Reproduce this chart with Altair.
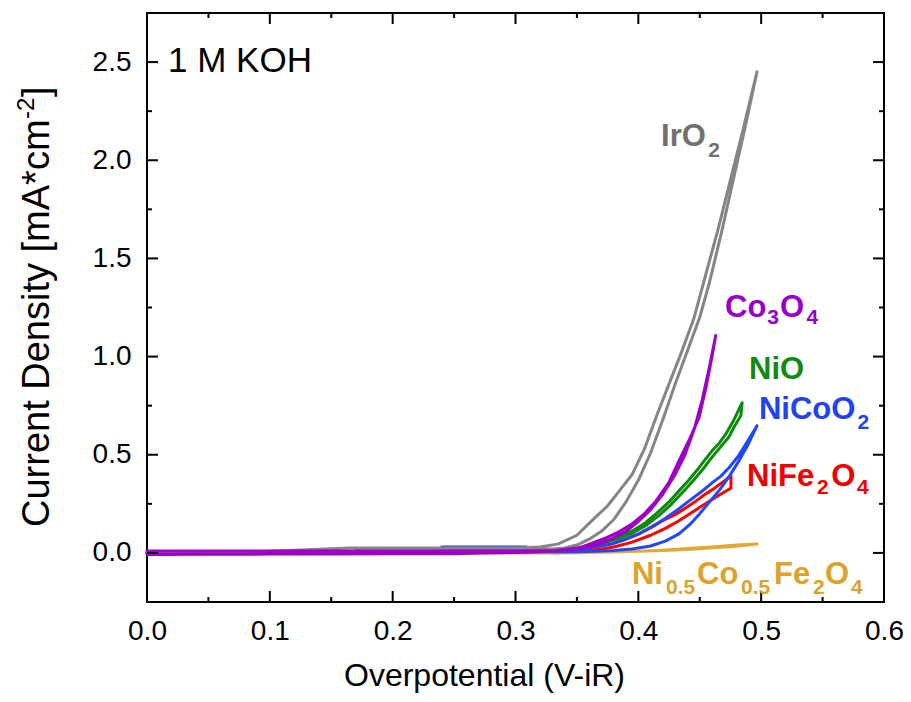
import altair as alt
import pandas as pd

FONT = "Liberation Sans"

# ---------------- data ----------------
series_names = ["Ni0.5Co0.5Fe2O4", "NiFe2O4", "NiO", "NiCoO2", "IrO2", "Co3O4"]
series_colors = ["#E3A833", "#FF0000", "#0C8C0C", "#2047FF", "#858585", "#9E00C8"]

# IrO2 (forward + return scan)
iro2_x = [0.0, 0.1, 0.165, 0.25, 0.30, 0.32, 0.335, 0.35, 0.362, 0.375, 0.385, 0.395, 0.405,
          0.415, 0.425, 0.435, 0.445, 0.455, 0.465, 0.475, 0.485, 0.4966,
          0.487, 0.478, 0.468, 0.458, 0.45, 0.44, 0.43, 0.42, 0.41, 0.40, 0.39, 0.38, 0.37,
          0.36, 0.35, 0.34, 0.33, 0.30, 0.20, 0.17]
iro2_y = [0.005, 0.008, 0.025, 0.025, 0.025, 0.03, 0.046, 0.09, 0.163, 0.24, 0.32, 0.40, 0.53,
          0.70, 0.86, 1.02, 1.19, 1.42, 1.65, 1.90, 2.15, 2.45,
          2.17, 1.92, 1.64, 1.38, 1.20, 1.03, 0.86, 0.68, 0.51, 0.37, 0.26, 0.17, 0.11,
          0.07, 0.04, 0.025, 0.02, 0.02, 0.02, 0.02]

# Co3O4
co3o4_x = [0.0, 0.05, 0.1, 0.15, 0.2, 0.25, 0.272, 0.30, 0.33, 0.352, 0.3737, 0.385, 0.395,
           0.405, 0.4144, 0.425, 0.4331, 0.441, 0.4494, 0.455, 0.460, 0.463,
           0.458, 0.452, 0.446, 0.438, 0.430, 0.420, 0.410, 0.400, 0.390, 0.378, 0.365,
           0.350, 0.335, 0.30, 0.2, 0.1, 0.0]
co3o4_y = [-0.008, -0.007, -0.006, -0.005, -0.004, -0.004, 0.0, 0.002, 0.01, 0.026, 0.077, 0.11,
           0.148, 0.20, 0.265, 0.36, 0.469, 0.57, 0.689, 0.84, 1.0, 1.107,
           0.95, 0.78, 0.64, 0.50, 0.40, 0.30, 0.22, 0.16, 0.11, 0.07, 0.04,
           0.02, 0.012, 0.01, 0.01, 0.01, 0.01]

# NiO
nio_x = [0.0, 0.2, 0.33, 0.352, 0.3737, 0.385, 0.395, 0.405, 0.4144, 0.425, 0.4331, 0.441,
         0.4494, 0.455, 0.460, 0.466, 0.4714, 0.478, 0.4845,
         0.4835, 0.4778, 0.4737, 0.467, 0.4603, 0.453, 0.445, 0.4363, 0.4273, 0.4167,
         0.4064, 0.395, 0.383, 0.366, 0.35, 0.33]
nio_y = [0.0, 0.005, 0.012, 0.026, 0.061, 0.085, 0.112, 0.15, 0.199, 0.26, 0.316, 0.37,
         0.434, 0.48, 0.520, 0.56, 0.607, 0.68, 0.765,
         0.70, 0.64, 0.59, 0.54, 0.49, 0.43, 0.37, 0.31, 0.25, 0.19,
         0.14, 0.10, 0.07, 0.04, 0.02, 0.012]

# NiCoO2
nicoo2_x = [0.0, 0.236, 0.24, 0.309, 0.315, 0.33, 0.352, 0.3786, 0.39, 0.4005, 0.412, 0.4226,
            0.432, 0.4413, 0.451, 0.460, 0.467, 0.4738, 0.481, 0.4877, 0.4966,
            0.49, 0.482, 0.474, 0.466, 0.458, 0.45, 0.442, 0.4331, 0.422, 0.41, 0.395,
            0.38, 0.365, 0.35, 0.3, 0.2, 0.0]
nicoo2_y = [0.0, 0.0, 0.03, 0.03, 0.012, 0.012, 0.018, 0.046, 0.07, 0.097, 0.135, 0.179,
            0.22, 0.265, 0.31, 0.357, 0.39, 0.434, 0.49, 0.556, 0.648,
            0.56, 0.47, 0.39, 0.32, 0.26, 0.20, 0.145, 0.097, 0.06, 0.035, 0.02,
            0.012, 0.008, 0.006, 0.005, 0.003, 0.0]

# NiFe2O4
nife2o4_x = [0.0, 0.3, 0.34, 0.36, 0.3786, 0.39, 0.4005, 0.41, 0.4193, 0.43, 0.4388, 0.447,
             0.455, 0.462, 0.468, 0.4754,
             0.4754, 0.470, 0.462, 0.452, 0.442, 0.432, 0.422, 0.41, 0.395, 0.38, 0.365, 0.34]
nife2o4_y = [0.0, 0.005, 0.01, 0.025, 0.046, 0.07, 0.097, 0.13, 0.163, 0.195, 0.230, 0.265,
             0.301, 0.33, 0.357, 0.393,
             0.33, 0.31, 0.28, 0.24, 0.20, 0.16, 0.125, 0.09, 0.055, 0.03, 0.015, 0.008]

# Ni0.5Co0.5Fe2O4
ncfo_x = [0.0, 0.2, 0.33, 0.36, 0.38, 0.40, 0.42, 0.44, 0.46, 0.475, 0.485, 0.4966,
          0.48, 0.46, 0.44, 0.42, 0.40, 0.38, 0.36, 0.33]
ncfo_y = [0.0, 0.0, 0.0, 0.002, 0.005, 0.008, 0.012, 0.018, 0.026, 0.032, 0.038, 0.046,
          0.04, 0.03, 0.022, 0.014, 0.009, 0.005, 0.002, -0.002]

series_x = [ncfo_x, nife2o4_x, nio_x, nicoo2_x, iro2_x, co3o4_x]
series_y = [ncfo_y, nife2o4_y, nio_y, nicoo2_y, iro2_y, co3o4_y]

# curve labels: pieces of text (main / subscript)
label_text = ["IrO", "2", "Co", "3", "O", "4", "NiO", "NiCoO", "2",
              "NiFe", "2", "O", "4",
              "Ni", "0.5", "Co", "0.5", "Fe", "2", "O", "4"]
label_sub = [0, 1, 0, 1, 0, 1, 0, 0, 1,
             0, 1, 0, 1,
             0, 1, 0, 1, 0, 1, 0, 1]
label_series = ["IrO2", "IrO2", "Co3O4", "Co3O4", "Co3O4", "Co3O4", "NiO", "NiCoO2", "NiCoO2",
                "NiFe2O4", "NiFe2O4", "NiFe2O4", "NiFe2O4",
                "Ni0.5Co0.5Fe2O4"] + ["Ni0.5Co0.5Fe2O4"] * 7
label_x = [0.4185, 0.4570, 0.4706, 0.5050, 0.5153, 0.5370, 0.4901, 0.4982, 0.5785,
           0.4885, 0.5455, 0.5570, 0.5780,
           0.3948, 0.4225, 0.4478, 0.4836, 0.5104, 0.5422, 0.5520, 0.5731]
label_y = [2.071, 2.015, 1.204, 1.168, 1.204, 1.168, 0.888, 0.684, 0.633,
           0.342, 0.301, 0.342, 0.301,
           -0.158, -0.209, -0.158, -0.209, -0.158, -0.209, -0.158, -0.209]
label_colors = {"IrO2": "#707070", "Co3O4": "#9900CC", "NiO": "#128A12",
                "NiCoO2": "#2142F2", "NiFe2O4": "#F20000", "Ni0.5Co0.5Fe2O4": "#DCA22E"}

x_major = [0.0, 0.1, 0.2, 0.3, 0.4, 0.5, 0.6]
x_minor = [0.05, 0.15, 0.25, 0.35, 0.45, 0.55]
y_major = [0.0, 0.5, 1.0, 1.5, 2.0, 2.5]
y_minor = [0.25, 0.75, 1.25, 1.75, 2.25]

# ---------------- chart ----------------
W, H = 737, 589
xscale = alt.Scale(domain=[0, 0.6], nice=False, zero=False)
yscale = alt.Scale(domain=[-0.25, 2.75], nice=False, zero=False)

xaxis = alt.Axis(values=x_major, format=".1f", title="Overpotential (V-iR)",
                 titleFont=FONT, titleFontSize=32, titleFontWeight="normal", titleColor="black",
                 titleY=83, titleX=337, titleBaseline="alphabetic", titleAlign="center",
                 labelFont=FONT, labelFontSize=28, labelColor="black", labelPadding=15,
                 ticks=False, tickSize=0, domain=False, grid=False, labelFlush=False)
yaxis = alt.Axis(values=y_major, format=".1f", title="",
                 labelFont=FONT, labelFontSize=28, labelColor="black", labelPadding=16,
                 ticks=False, tickSize=0, domain=False, grid=False, labelFlush=False)

X = lambda f: alt.X(f, scale=xscale, axis=xaxis)
Y = lambda f: alt.Y(f, scale=yscale, axis=yaxis)

layers = []
for name, col, xs, ys in zip(series_names, series_colors, series_x, series_y):
    df = pd.DataFrame({"x": xs, "y": ys, "i": list(range(len(xs)))})
    layers.append(
        alt.Chart(df).mark_line(color=col, strokeWidth=3, strokeJoin="round", strokeCap="round").encode(
            x=X("x:Q"), y=Y("y:Q"), order="i:Q",
        )
    )

# ticks pointing inward, on all four sides
xmaj_df = pd.DataFrame({"x": x_major})
xmin_df = pd.DataFrame({"x": x_minor})
ymaj_df = pd.DataFrame({"y": y_major})
ymin_df = pd.DataFrame({"y": y_minor})
for d, ln in ((xmaj_df, 11), (xmin_df, 5)):
    layers.append(alt.Chart(d).mark_rule(color="black", strokeWidth=2).encode(
        x=X("x:Q"), y=alt.value(H), y2=alt.value(H - ln)))
    layers.append(alt.Chart(d).mark_rule(color="black", strokeWidth=2).encode(
        x=X("x:Q"), y=alt.value(0), y2=alt.value(ln)))
for d, ln in ((ymaj_df, 11), (ymin_df, 5)):
    layers.append(alt.Chart(d).mark_rule(color="black", strokeWidth=2).encode(
        y=Y("y:Q"), x=alt.value(0), x2=alt.value(ln)))
    layers.append(alt.Chart(d).mark_rule(color="black", strokeWidth=2).encode(
        y=Y("y:Q"), x=alt.value(W), x2=alt.value(W - ln)))

# curve labels
lab_df = pd.DataFrame({"t": label_text, "x": label_x, "y": label_y, "s": label_series,
                       "sub": label_sub})
cscale = alt.Scale(domain=list(label_colors.keys()), range=list(label_colors.values()))
for sub, fs in ((0, 31), (1, 21)):
    layers.append(
        alt.Chart(lab_df[lab_df["sub"] == sub]).mark_text(
            font=FONT, fontSize=fs, fontWeight="bold", align="left", baseline="alphabetic"
        ).encode(
            x=X("x:Q"), y=Y("y:Q"),
            text="t:N",
            color=alt.Color("s:N", scale=cscale, legend=None),
        )
    )

# "1 M KOH"
layers.append(
    alt.Chart(pd.DataFrame({"t": ["1 M KOH"], "x": [0.0171], "y": [2.449]})).mark_text(
        font=FONT, fontSize=35, align="left", baseline="alphabetic", color="black"
    ).encode(x=X("x:Q"), y=Y("y:Q"), text="t:N")
)

# y-axis title with superscript
ytitle_parts = ["Current Density [mA*cm", "-2", "]"]
ytitle_df = pd.DataFrame({"t": ytitle_parts})
layers.append(alt.Chart(ytitle_df.iloc[[0]]).mark_text(
    font=FONT, fontSize=38, angle=270, align="left", baseline="alphabetic", color="black"
).encode(x=alt.value(-98), y=alt.value(514), text="t:N"))
layers.append(alt.Chart(ytitle_df.iloc[[1]]).mark_text(
    font=FONT, fontSize=24, angle=270, align="left", baseline="alphabetic", color="black"
).encode(x=alt.value(-113), y=alt.value(106), text="t:N"))
layers.append(alt.Chart(ytitle_df.iloc[[2]]).mark_text(
    font=FONT, fontSize=38, angle=270, align="left", baseline="alphabetic", color="black"
).encode(x=alt.value(-98), y=alt.value(84), text="t:N"))

chart = alt.layer(*layers).properties(
    width=W, height=H,
    autosize=alt.AutoSizeParams(type="none"),
    padding={"left": 139, "top": 5, "right": 19, "bottom": 91},
    background="white",
).configure_view(stroke="black", strokeWidth=2)

chart.save("out.html", embed_options={"renderer": "svg", "actions": False})
